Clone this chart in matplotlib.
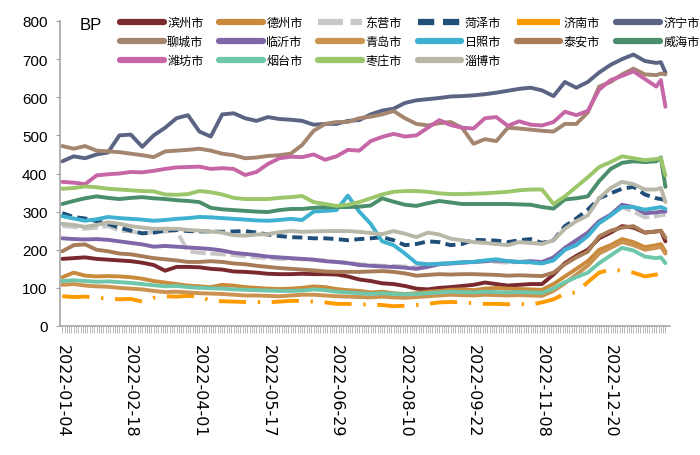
import numpy as np
import matplotlib
matplotlib.use('Agg')
import matplotlib.pyplot as plt

# trading-day index of each sample (0 = 2022-01-04)
idx = list(range(0, 261, 5)) + [262, 264]

tick_pos = [0, 30, 60, 90, 120, 150, 180, 210, 240]
tick_labels = ['2022-01-04', '2022-02-18', '2022-04-01', '2022-05-17', '2022-06-29',
               '2022-08-10', '2022-09-22', '2022-11-08', '2022-12-20']

binzhou = [176, 178, 180, 176, 174, 172, 170, 166, 160, 145, 155, 155, 154, 150, 148,
           143, 142, 140, 137, 136, 136, 137, 136, 136, 135, 130, 122, 118, 112, 110,
           105, 98, 96, 100, 102, 105, 108, 114, 110, 106, 108, 110, 110, 135, 165,
           184, 200, 230, 245, 262, 258, 245, 248, 250, 222]
dezhou = [128, 140, 132, 130, 131, 130, 128, 124, 118, 114, 110, 106, 104, 102, 108,
          106, 102, 100, 98, 97, 98, 100, 104, 102, 97, 94, 92, 88, 90, 86,
          84, 86, 90, 92, 95, 96, 94, 98, 100, 98, 97, 96, 95, 110, 130,
          150, 170, 200, 212, 228, 220, 207, 212, 215, 195]
dongying = [262, 260, 255, 258, 262, 250, 248, 244, 246, 248, 250, 196, 192, 190, 188,
            186, 183, 180, 178, 176, 176, 175, 174, 172, 168, 166, 162, 160, 158, 158,
            156, 154, 160, 164, 165, 168, 167, 170, 168, 166, 168, 166, 165, 178, 200,
            220, 242, 270, 290, 312, 300, 285, 288, 290, 292]
heze = [296, 286, 282, 275, 268, 258, 250, 243, 245, 250, 252, 249, 248, 248, 247,
        248, 249, 245, 240, 236, 233, 232, 230, 230, 228, 225, 228, 230, 233, 225,
        212, 215, 222, 220, 212, 215, 226, 225, 224, 220, 225, 228, 218, 225, 262,
        282, 305, 335, 348, 360, 365, 345, 335, 333, 330]
jinan = [78, 76, 77, 74, 72, 70, 71, 64, 74, 78, 77, 79, 78, 66, 65,
         64, 63, 63, 62, 64, 66, 66, 64, 62, 58, 58, 57, 56, 55, 52,
         53, 55, 58, 62, 63, 62, 60, 58, 58, 57, 58, 56, 62, 70, 85,
         88, 115, 140, 148, 145, 140, 130, 135, 138, 140]
jining = [432, 445, 440, 450, 455, 500, 502, 470, 500, 520, 545, 553, 510, 497, 555,
          558, 545, 538, 548, 543, 541, 538, 528, 530, 530, 538, 540, 555, 565, 570,
          585, 592, 595, 598, 602, 603, 605, 608, 612, 617, 622, 625, 618, 603, 640,
          625, 640, 665, 685, 700, 712, 695, 690, 692, 665]
liaocheng = [472, 465, 472, 460, 458, 456, 452, 448, 443, 458, 460, 462, 465, 460, 452,
             448, 440, 442, 446, 448, 452, 475, 512, 530, 535, 535, 545, 549, 555, 564,
             545, 530, 526, 532, 535, 520, 478, 490, 485, 520, 518, 515, 512, 510, 530,
             530, 560, 628, 640, 660, 675, 660, 658, 662, 660]
linyi = [230, 228, 227, 228, 226, 222, 218, 214, 208, 210, 208, 206, 204, 202, 198,
         192, 189, 186, 182, 180, 178, 176, 174, 170, 168, 165, 160, 158, 156, 155,
         153, 150, 155, 162, 164, 166, 168, 170, 172, 170, 168, 170, 168, 180, 205,
         225, 245, 275, 292, 318, 312, 296, 298, 300, 300]
qingdao = [108, 110, 106, 104, 103, 100, 98, 96, 92, 89, 90, 88, 86, 85, 84,
           82, 80, 80, 79, 78, 80, 82, 82, 80, 78, 77, 76, 75, 77, 75,
           74, 76, 78, 80, 82, 81, 80, 82, 81, 80, 81, 80, 79, 92, 112,
           135, 158, 190, 205, 220, 212, 200, 205, 208, 190]
rizhao = [288, 282, 276, 280, 286, 283, 281, 279, 276, 278, 281, 283, 286, 285, 283,
          281, 279, 277, 276, 278, 281, 278, 300, 302, 304, 342, 300, 268, 222, 212,
          190, 165, 162, 163, 165, 167, 168, 172, 175, 170, 168, 167, 164, 172, 200,
          212, 236, 270, 290, 312, 312, 305, 310, 312, 307]
taian = [196, 212, 214, 200, 196, 190, 188, 183, 178, 175, 172, 168, 168, 170, 168,
         164, 162, 158, 155, 152, 150, 148, 146, 143, 142, 142, 142, 143, 144, 142,
         138, 132, 134, 136, 135, 136, 136, 135, 134, 132, 133, 132, 131, 140, 162,
         180, 195, 235, 250, 258, 262, 245, 248, 250, 232]
weihai = [320, 328, 335, 340, 336, 333, 336, 338, 335, 333, 330, 328, 325, 310, 306,
          304, 302, 300, 299, 304, 307, 307, 310, 312, 312, 312, 313, 316, 335, 326,
          318, 315, 322, 328, 324, 320, 320, 320, 320, 320, 319, 318, 312, 308, 332,
          335, 340, 380, 412, 428, 432, 430, 432, 442, 365]
weifang = [378, 376, 372, 395, 398, 400, 404, 403, 407, 412, 416, 417, 418, 412, 414,
           412, 396, 404, 425, 440, 444, 443, 450, 436, 445, 462, 460, 485, 496, 504,
           497, 500, 520, 540, 527, 520, 518, 545, 548, 525, 537, 528, 526, 535, 562,
           553, 564, 620, 645, 656, 668, 648, 628, 645, 575]
yantai = [118, 120, 118, 116, 117, 115, 113, 110, 107, 104, 105, 102, 100, 99, 98,
          96, 95, 94, 93, 92, 92, 93, 96, 94, 90, 88, 86, 84, 86, 84,
          83, 84, 86, 88, 90, 89, 88, 90, 89, 88, 89, 88, 87, 98, 115,
          128, 140, 165, 185, 205, 198, 182, 178, 180, 165]
zaozhuang = [360, 362, 366, 364, 360, 358, 356, 354, 353, 345, 344, 346, 354, 351, 345,
             336, 333, 333, 333, 336, 338, 341, 325, 320, 315, 318, 325, 335, 345, 352,
             354, 354, 352, 348, 346, 346, 347, 348, 350, 352, 356, 358, 358, 320, 340,
             365, 390, 417, 430, 445, 440, 435, 438, 440, 395]
zibo = [268, 265, 260, 265, 272, 268, 262, 258, 255, 255, 255, 252, 250, 248, 245,
        238, 237, 240, 241, 246, 249, 247, 248, 249, 249, 249, 247, 244, 241, 249,
        242, 233, 245, 240, 229, 225, 220, 218, 215, 212, 220, 218, 215, 225, 255,
        275, 290, 335, 362, 378, 372, 358, 358, 362, 325]

names = ['滨州市', '德州市', '东营市', '菏泽市', '济南市', '济宁市', '聊城市', '临沂市',
         '青岛市', '日照市', '泰安市', '威海市', '潍坊市', '烟台市', '枣庄市', '淄博市']
series = [binzhou, dezhou, dongying, heze, jinan, jining, liaocheng, linyi,
          qingdao, rizhao, taian, weihai, weifang, yantai, zaozhuang, zibo]
colors = ['#7a2a2e', '#c98a3c', '#c8c8c8', '#1f4e79', '#ff9a00', '#5b6483', '#a48570', '#7f66a8',
          '#cc9250', '#3eb0d0', '#a87c58', '#4b8e6c', '#c766a6', '#6ec7ab', '#9cc66a', '#b9b7a8']
styles = {'东营市': (0, (4, 1.2)), '菏泽市': (0, (2.6, 1.4)), '济南市': (0, (7, 3, 0.6, 3))}

cjk = ['Noto Sans CJK SC', 'DejaVu Sans']

fig = plt.figure(figsize=(7, 4.56), dpi=100)
ax = fig.add_axes([60 / 700, 1 - 327 / 456, 610 / 700, 305 / 456])

lines = {}
for name, vals, c in zip(names, series, colors):
    ls = styles.get(name, '-')
    ln, = ax.plot(idx, vals, color=c, lw=2.8, ls=ls, label=name,
                  solid_capstyle='round', solid_joinstyle='round')
    lines[name] = ln

ax.set_xlim(-1, 266)
ax.set_ylim(0, 800)
ax.set_yticks(range(0, 801, 100))
ax.set_xticks(tick_pos)
ax.set_xticklabels(tick_labels, rotation=-90, fontsize=11.5, family='DejaVu Sans')
ax.set_xticks(range(0, 265), minor=True)
ax.tick_params(axis='x', which='both', length=5, width=0.5, color='#a0a0a0', pad=8)
ax.tick_params(axis='y', length=3, width=0.8, color='#a0a0a0', labelsize=11, pad=6)
for lab in ax.get_yticklabels():
    lab.set_family(['Liberation Sans Narrow', 'Liberation Sans', 'DejaVu Sans'])

for s in ['top', 'right']:
    ax.spines[s].set_visible(False)
for s in ['left', 'bottom']:
    ax.spines[s].set_color('#a6a6a6')
    ax.spines[s].set_linewidth(1.2)

fig.text(80 / 700, 1 - 26 / 456, 'BP', fontsize=12, va='center', ha='left',
         family=['Liberation Sans', 'DejaVu Sans'])

# legend: reorder so that the column-wise fill reads row by row
order = [0, 6, 12, 1, 7, 13, 2, 8, 14, 3, 9, 15, 4, 10, 5, 11]
handles = [lines[names[i]] for i in order]
labels = [names[i] for i in order]
leg = fig.legend(handles, labels, ncol=6, loc='upper left',
                 bbox_to_anchor=(120 / 700, 1 - 17 / 456), frameon=False,
                 prop={'family': cjk, 'size': 8.7}, handlelength=3.6,
                 handletextpad=0.3, columnspacing=1.3, labelspacing=0.5,
                 borderpad=0, borderaxespad=0)
for h in leg.legend_handles:
    h.set_linewidth(4.5)

fig.savefig('out.png', dpi=100)
